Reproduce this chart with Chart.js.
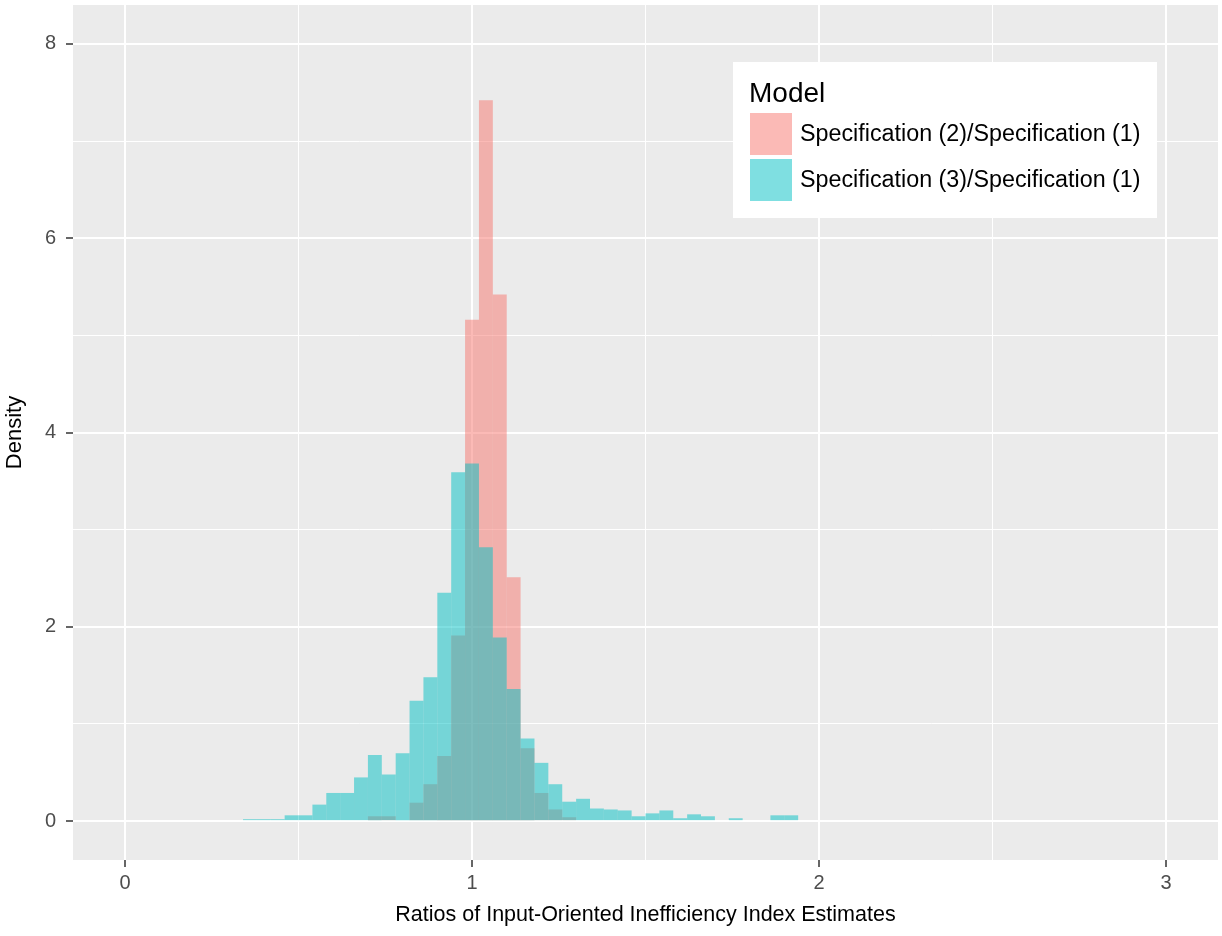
<!DOCTYPE html>
<html>
<head>
<meta charset="utf-8">
<script src="https://cdn.jsdelivr.net/npm/chart.js@4.4.1/dist/chart.umd.min.js"></script>
<style>
  html, body { margin: 0; padding: 0; background: #fff; }
  #wrap { width: 1222px; height: 936px; }
</style>
</head>
<body>
<div id="wrap"><canvas id="hist" width="1222" height="936"></canvas></div>
<script>
// Histogram bins (width 0.04), centres from 0.36 to 2.80
const binWidth = 0.04;
const binCenters = [
  0.36, 0.40, 0.44, 0.48, 0.52, 0.56, 0.60, 0.64, 0.68, 0.72,
  0.76, 0.80, 0.84, 0.88, 0.92, 0.96, 1.00, 1.04, 1.08, 1.12,
  1.16, 1.20, 1.24, 1.28, 1.32, 1.36, 1.40, 1.44, 1.48, 1.52,
  1.56, 1.60, 1.64, 1.68, 1.72, 1.76, 1.80, 1.84, 1.88, 1.92,
  1.96, 2.00, 2.04, 2.08, 2.12, 2.16, 2.20, 2.24, 2.28, 2.32,
  2.36, 2.40, 2.44, 2.48, 2.52, 2.56, 2.60, 2.64, 2.68, 2.72,
  2.76, 2.80
];
// Specification (2)/Specification (1)
const spec2Density = [
  0, 0, 0, 0, 0, 0, 0, 0, 0, 0.05,
  0.05, 0, 0.19, 0.38, 0.67, 1.91, 5.16, 7.42, 5.42, 2.51,
  0.75, 0.29, 0.12, 0.04, 0.01, 0, 0, 0, 0, 0,
  0, 0, 0, 0, 0, 0, 0, 0, 0, 0,
  0, 0, 0, 0, 0, 0, 0, 0, 0, 0,
  0, 0, 0, 0, 0, 0, 0, 0, 0, 0,
  0, 0
];
// Specification (3)/Specification (1)
const spec3Density = [
  0.02, 0.02, 0.02, 0.06, 0.06, 0.17, 0.29, 0.29, 0.45, 0.68,
  0.48, 0.70, 1.24, 1.48, 2.35, 3.59, 3.68, 2.82, 1.89, 1.36,
  0.85, 0.60, 0.38, 0.20, 0.23, 0.13, 0.12, 0.11, 0.05, 0.08,
  0.11, 0.03, 0.07, 0.05, 0.01, 0.03, 0, 0.01, 0.06, 0.06,
  0, 0.01, 0.01, 0.01, 0.01, 0, 0, 0, 0, 0,
  0, 0, 0, 0, 0, 0, 0, 0, 0, 0,
  0, 0.01
];
const seriesNames = ['Specification (2)/Specification (1)', 'Specification (3)/Specification (1)'];
const seriesColors = ['rgba(248,118,109,0.5)', 'rgba(0,191,196,0.5)'];

const xTicks = [0, 0.5, 1, 1.5, 2, 2.5, 3];
const xTickLabels = ['0', '', '1', '', '2', '', '3'];
const yTicks = [0, 1, 2, 3, 4, 5, 6, 7, 8];
const yTickLabels = ['0', '', '2', '', '4', '', '6', '', '8'];

const FONT = "'Liberation Sans', Arial, sans-serif";

// grey panel behind the plot
const panelBg = {
  id: 'panelBg',
  beforeDraw(chart) {
    const { ctx, chartArea: a } = chart;
    ctx.save();
    ctx.fillStyle = '#fff';
    ctx.fillRect(0, 0, chart.width, chart.height);
    ctx.fillStyle = '#EBEBEB';
    ctx.fillRect(a.left, a.top, a.right - a.left, a.bottom - a.top);
    ctx.restore();
  }
};

// ggplot style legend box inside the panel
const legendBox = {
  id: 'legendBox',
  afterDraw(chart) {
    const { ctx, chartArea: a } = chart;
    const x = a.right - 485, y = a.top + 57;
    ctx.save();
    ctx.fillStyle = '#fff';
    ctx.fillRect(x, y, 424, 156);
    ctx.fillStyle = '#000';
    ctx.font = '28px ' + FONT;
    ctx.textBaseline = 'alphabetic';
    ctx.fillText('Model', x + 16, y + 40);
    ctx.font = '23.3px ' + FONT;
    ctx.textBaseline = 'middle';
    seriesNames.forEach((name, i) => {
      ctx.fillStyle = seriesColors[i];
      ctx.fillRect(x + 17, y + 51 + i * 46, 42, 42);
      ctx.fillStyle = '#000';
      ctx.fillText(name, x + 67, y + 73 + i * 46);
    });
    ctx.restore();
  }
};

function isMajor(labels, i) {
  return labels[i] !== '' && labels[i] !== undefined;
}

const ctx = document.getElementById('hist').getContext('2d');
new Chart(ctx, {
  type: 'bar',
  data: {
    datasets: [
      {
        label: seriesNames[0],
        data: binCenters.map((c, i) => ({ x: c, y: spec2Density[i] })),
        backgroundColor: seriesColors[0],
        order: 1
      },
      {
        label: seriesNames[1],
        data: binCenters.map((c, i) => ({ x: c, y: spec3Density[i] })),
        backgroundColor: seriesColors[1],
        order: 0
      }
    ]
  },
  options: {
    responsive: false,
    animation: false,
    devicePixelRatio: 1,
    grouped: false,
    barPercentage: 1,
    categoryPercentage: 1,
    borderWidth: 0,
    inflateAmount: 0,
    layout: { padding: { top: 5, right: 4, left: 0, bottom: 0 } },
    plugins: {
      legend: { display: false },
      tooltip: { enabled: false }
    },
    scales: {
      x: {
        type: 'linear',
        min: -0.15,
        max: 3.15,
        offset: false,
        afterBuildTicks: s => { s.ticks = xTicks.map(v => ({ value: v })); },
        afterFit: s => {
          s.height = 76;
          s.paddingLeft = 0; s.paddingRight = 0;
        },
        border: { display: false },
        grid: {
          offset: false,
          color: '#fff',
          lineWidth: c => isMajor(xTickLabels, c.index) ? 2 : 1,
          tickLength: 7,
          tickWidth: 1.5,
          tickColor: c => isMajor(xTickLabels, c.index) ? '#333' : 'rgba(0,0,0,0)'
        },
        ticks: {
          autoSkip: false,
          maxRotation: 0,
          padding: 4,
          color: '#4D4D4D',
          font: { family: FONT, size: 20 },
          callback: (v, i) => xTickLabels[i]
        },
        title: {
          display: true,
          text: 'Ratios of Input-Oriented Inefficiency Index Estimates',
          color: '#000',
          font: { family: FONT, size: 21.5 },
          padding: { top: 0, bottom: 8 }
        }
      },
      y: {
        type: 'linear',
        min: -0.4,
        max: 8.4,
        afterBuildTicks: s => { s.ticks = yTicks.map(v => ({ value: v })); },
        afterFit: s => {
          s.width = 73;
          s.paddingTop = 0; s.paddingBottom = 0;
        },
        border: { display: false },
        grid: {
          color: '#fff',
          lineWidth: c => isMajor(yTickLabels, c.index) ? 2 : 1,
          tickLength: 7,
          tickWidth: 1.5,
          tickColor: c => isMajor(yTickLabels, c.index) ? '#333' : 'rgba(0,0,0,0)'
        },
        ticks: {
          autoSkip: false,
          padding: 10,
          color: '#4D4D4D',
          font: { family: FONT, size: 20 },
          callback: (v, i) => yTickLabels[i]
        },
        title: {
          display: true,
          text: 'Density',
          color: '#000',
          font: { family: FONT, size: 22 },
          padding: { top: 2, bottom: 0 }
        }
      }
    }
  },
  plugins: [panelBg, legendBox]
});
</script>
</body>
</html>
